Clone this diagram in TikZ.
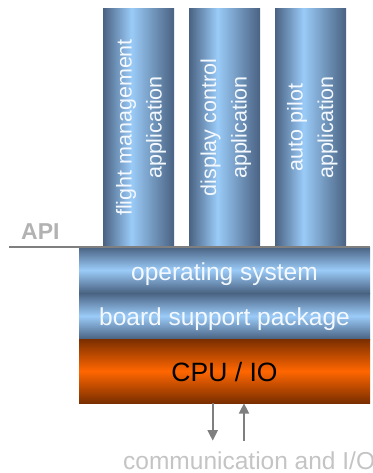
\documentclass[tikz,border=0pt]{standalone}
\usepackage{fontspec}
\setmainfont{Liberation Sans}
\usetikzlibrary{arrows.meta}

% palette
\definecolor{slatedk}{HTML}{4A6282}
\definecolor{slatelt}{HTML}{9ACBF8}
\definecolor{rustdk}{HTML}{7A2E00}
\definecolor{rustlt}{HTML}{FF6600}
\definecolor{apigrey}{HTML}{B2B2B2}
\definecolor{notegrey}{HTML}{C4C4C4}
\definecolor{arrgrey}{HTML}{7F7F7F}
\definecolor{labelwhite}{HTML}{F4F9FF}

% application pillars: dark edges, light stripe a little left of centre
\pgfdeclarehorizontalshading{columnshade}{100bp}{%
  color(0bp)=(slatedk); color(25bp)=(slatedk); color(45bp)=(slatelt);
  color(75bp)=(slatedk); color(100bp)=(slatedk)}

\begin{document}
\begin{tikzpicture}[x=1pt, y=-1pt,
  appcol/.style={rectangle, inner sep=0pt, minimum width=71pt,
    minimum height=238pt, shading=columnshade},
  coltext/.style={text=labelwhite, font=\fontsize{21.5}{24}\selectfont,
    rotate=90, anchor=base, inner sep=0pt},
  layer/.style={rectangle, inner sep=0pt, minimum width=291pt,
    minimum height=46pt, top color=slatedk, bottom color=slatedk,
    middle color=slatelt},
  hwlayer/.style={rectangle, inner sep=0pt, minimum width=291pt,
    minimum height=64pt, top color=rustdk, bottom color=rustdk,
    middle color=rustlt},
  layertext/.style={text=labelwhite, font=\fontsize{24.5}{28}\selectfont,
    anchor=base, inner sep=0pt},
  io/.style={draw=arrgrey, line width=2pt,
    -{Triangle[width=10pt,length=10.5pt]}}
]
\useasboundingbox (0,0) rectangle (372,473);

% application pillars
\node[appcol] (fm) at (138.5,128) {};
\node[appcol] (dc) at (224.5,128) {};
\node[appcol] (ap) at (310.5,128) {};

\node[coltext] (fmA) at (131.5,127.5) {flight management};
\node[coltext] (fmB) at (161.5,127.5) {application};
\node[coltext] (dcA) at (216,127.5) {display control};
\node[coltext] (dcB) at (246.5,127.5) {application};
\node[coltext] (apA) at (302.5,127.5) {auto pilot};
\node[coltext] (apB) at (333,127.5) {application};

% software layers and hardware
\node[layer] (os) at (224.5,270) {};
\node[layer] (bsp) at (224.5,316) {};
\node[hwlayer] (cpu) at (224.5,371) {};

\node[layertext] (osT) at (224.5,280) {operating system};
\node[layertext] (bspT) at (224.5,325) {board support package};
\node[layertext, text=black, font=\fontsize{26.5}{30}\selectfont]
  (cpuT) at (224.5,381.5) {CPU / IO};

% API boundary
\node[anchor=base west, inner sep=0pt, text=apigrey,
  font=\bfseries\fontsize{23}{26}\selectfont] (api) at (21,239) {API};
\coordinate (apiL) at (9,247);
\draw[arrgrey, line width=1.5pt] (apiL) -- (apiL -| os.east);

% communication arrows
\coordinate (dnEnd) at (212.7,440.7);
\coordinate (upStart) at (244,441);
\draw[io] (cpu.south -| dnEnd) -- (dnEnd);
\draw[io] (upStart) -- (upStart |- cpu.south);

\node[anchor=base west, inner sep=0pt, text=notegrey,
  font=\fontsize{24.5}{28}\selectfont] (comm) at (123,469.5)
  {communication and I/O};
\end{tikzpicture}
\end{document}
